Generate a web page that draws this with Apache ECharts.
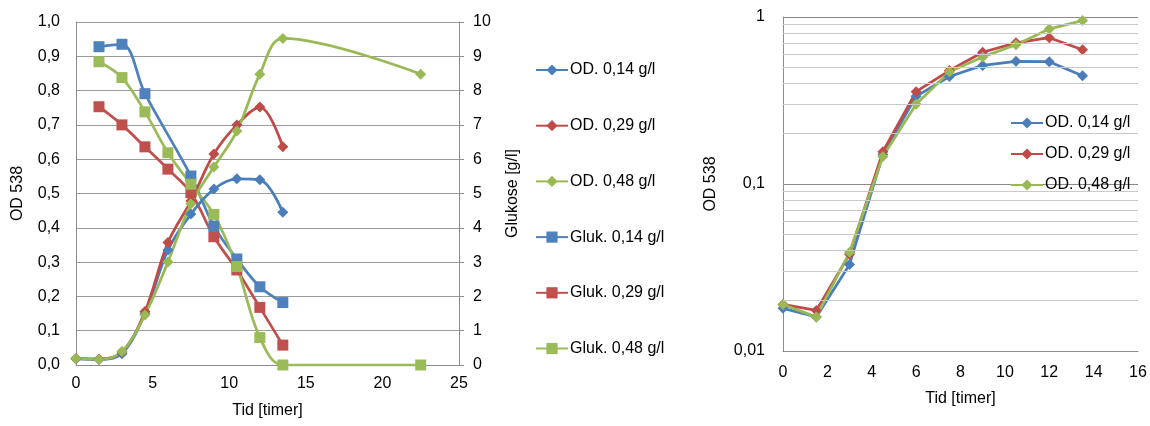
<!DOCTYPE html>
<html>
<head>
<meta charset="utf-8">
<script src="https://cdn.jsdelivr.net/npm/echarts@6/dist/echarts.min.js"></script>
<style>
html,body{margin:0;padding:0;background:#fff;}
#chart{width:1150px;height:426px;}
</style>
</head>
<body>
<div id="chart"></div>
<script>
// ---- data ----
const odTime = [0, 1.5, 3, 4.5, 6, 7.5, 9, 10.5, 12, 13.5];
const odTime48 = [0, 1.5, 3, 4.5, 6, 7.5, 9, 10.5, 12, 13.5, 22.5];
const od014 = [0.018, 0.016, 0.033, 0.150, 0.335, 0.440, 0.513, 0.543, 0.540, 0.445];
const od029 = [0.019, 0.0175, 0.038, 0.156, 0.357, 0.478, 0.615, 0.700, 0.752, 0.636];
const od048 = [0.019, 0.016, 0.039, 0.146, 0.300, 0.470, 0.577, 0.682, 0.848, 0.952, 0.848];

const glukTime14 = [1.5, 3, 4.5, 7.5, 9, 10.5, 12, 13.5];
const glukTime29 = [1.5, 3, 4.5, 6, 7.5, 9, 10.5, 12, 13.5];
const glukTime48 = [1.5, 3, 4.5, 6, 7.5, 9, 10.5, 12, 13.5, 22.5];
const gluk014 = [9.28, 9.35, 7.91, 5.51, 4.05, 3.09, 2.28, 1.82];
const gluk029 = [7.53, 7.00, 6.36, 5.71, 5.02, 3.74, 2.77, 1.68, 0.58];
const gluk048 = [8.84, 8.38, 7.38, 6.19, 5.27, 4.39, 2.87, 0.80, 0.00, 0.00];

const names = ['OD. 0,14 g/l', 'OD. 0,29 g/l', 'OD. 0,48 g/l', 'Gluk. 0,14 g/l', 'Gluk. 0,29 g/l', 'Gluk. 0,48 g/l'];
const logMinor = [0.02, 0.03, 0.04, 0.05, 0.06, 0.07, 0.08, 0.09, 0.2, 0.3, 0.4, 0.5, 0.6, 0.7, 0.8, 0.9];

// ---- styling ----
const FONT = 'Liberation Sans';
const odColors = ['#4A7EBB', '#BE4B48', '#98B954'];
const glColors = ['#4F81BD', '#C0504D', '#9BBB59'];
const gridColor = '#9a9a9a';
const minorColor = '#c9c9c9';
const axisColor = '#8c8c8c';

const zip = (xs, ys) => xs.map((x, i) => [x, ys[i]]);
const comma = s => String(s).replace('.', ',');

function lineSeries(name, data, color, symbol, size, xi, yi, smooth) {
  return {
    name, type: 'line', data, xAxisIndex: xi, yAxisIndex: yi,
    smooth: smooth ? 0.35 : false,
    symbol, symbolSize: size, showSymbol: true,
    lineStyle: {color, width: 2.75},
    itemStyle: {color, borderWidth: 0},
    emphasis: {disabled: true},
    animation: false
  };
}

const textBase = {fontFamily: FONT, fontSize: 16, color: '#000'};

const option = {
  animation: false,
  textStyle: {fontFamily: FONT},
  grid: [
    {left: 76, right: 691, top: 22, bottom: 61, containLabel: false},
    {left: 783, right: 12, top: 17, bottom: 75, containLabel: false}
  ],
  legend: [
    {
      data: names,
      orient: 'vertical', left: 530, top: 57, itemGap: 39.7,
      itemWidth: 32, itemHeight: 14,
      textStyle: Object.assign({}, textBase, {padding: [0, 0, 0, -3]}),
      selectedMode: false
    },
    {
      data: names.slice(0, 3),
      orient: 'vertical', left: 1005, top: 110, itemGap: 15,
      itemWidth: 32, itemHeight: 14,
      textStyle: Object.assign({}, textBase, {padding: [0, 0, 0, -3]}),
      selectedMode: false
    }
  ],
  xAxis: [
    {
      type: 'value', gridIndex: 0, min: 0, max: 25, interval: 5,
      name: 'Tid [timer]', nameLocation: 'middle', nameGap: 38,
      nameTextStyle: textBase,
      axisLine: {show: true, lineStyle: {color: axisColor, width: 1}},
      axisTick: {show: false},
      axisLabel: Object.assign({}, textBase, {margin: 11}),
      splitLine: {show: false}
    },
    {
      type: 'value', gridIndex: 1, min: 0, max: 16, interval: 2,
      name: 'Tid [timer]', nameLocation: 'middle', nameGap: 40,
      nameTextStyle: textBase,
      axisLine: {show: true, lineStyle: {color: axisColor, width: 1}},
      axisTick: {show: false},
      axisLabel: Object.assign({}, textBase, {margin: 14}),
      splitLine: {show: false}
    }
  ],
  yAxis: [
    {
      type: 'value', gridIndex: 0, min: 0, max: 1, interval: 0.1,
      name: 'OD 538', nameLocation: 'middle', nameGap: 50, nameRotate: 90,
      nameTextStyle: textBase,
      axisLine: {show: true, lineStyle: {color: axisColor, width: 1}},
      axisTick: {show: false},
      axisLabel: Object.assign({}, textBase, {margin: 16, formatter: v => comma(v.toFixed(1))}),
      splitLine: {show: true, lineStyle: {color: gridColor, width: 1}}
    },
    {
      type: 'value', gridIndex: 0, position: 'right', min: 0, max: 10, interval: 1,
      name: 'Glukose [g/l]', nameLocation: 'middle', nameGap: 46, nameRotate: 90,
      nameTextStyle: textBase,
      axisLine: {show: true, lineStyle: {color: axisColor, width: 1}},
      axisTick: {show: true, inside: false, length: 5, lineStyle: {color: axisColor}},
      axisLabel: Object.assign({}, textBase, {margin: 14}),
      splitLine: {show: false}
    },
    {
      type: 'log', gridIndex: 1, logBase: 10, min: 0.01, max: 1,
      name: 'OD 538', nameLocation: 'middle', nameGap: 64, nameRotate: 90,
      nameTextStyle: textBase,
      axisLine: {show: true, lineStyle: {color: axisColor, width: 1}},
      axisTick: {show: false},
      axisLabel: Object.assign({}, textBase, {margin: 18, formatter: v => comma(+Number(v).toPrecision(1))}),
      splitLine: {show: true, lineStyle: {color: '#8a8a8a', width: 1}}
    }
  ],
  series: [
    // left chart: glucose behind OD
    lineSeries(names[3], zip(glukTime14, gluk014), glColors[0], 'rect', 11, 0, 1, true),
    lineSeries(names[4], zip(glukTime29, gluk029), glColors[1], 'rect', 11, 0, 1, true),
    lineSeries(names[5], zip(glukTime48, gluk048), glColors[2], 'rect', 11, 0, 1, true),
    lineSeries(names[0], zip(odTime, od014), odColors[0], 'diamond', 11, 0, 0, true),
    lineSeries(names[1], zip(odTime, od029), odColors[1], 'diamond', 11, 0, 0, true),
    lineSeries(names[2], zip(odTime48, od048), odColors[2], 'diamond', 11, 0, 0, true),
    // right chart (log)
    Object.assign(lineSeries(names[0], zip(odTime, od014), odColors[0], 'diamond', 11, 1, 2, false), {
      markLine: {
        silent: true, symbol: 'none', label: {show: false}, animation: false,
        lineStyle: {color: minorColor, width: 1, type: 'solid'},
        emphasis: {disabled: true},
        data: logMinor.map(v => ({yAxis: v}))
      },
      z: 3
    }),
    lineSeries(names[1], zip(odTime, od029), odColors[1], 'diamond', 11, 1, 2, false),
    lineSeries(names[2], zip(odTime, od048.slice(0, odTime.length)), odColors[2], 'diamond', 11, 1, 2, false)
  ]
};

const chart = echarts.init(document.getElementById('chart'), null, {renderer: 'canvas'});
chart.setOption(option);
</script>
</body>
</html>
